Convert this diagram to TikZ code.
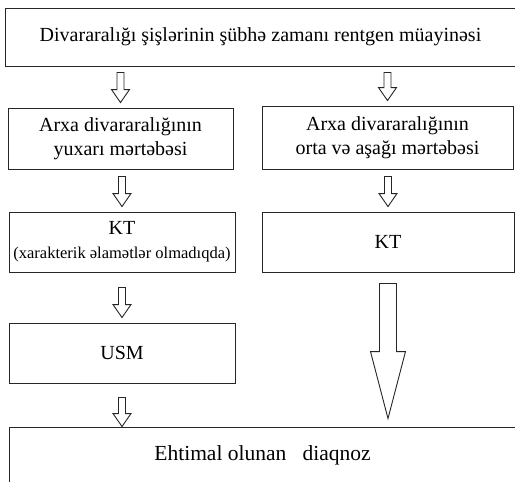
\documentclass[tikz,border=0pt]{standalone}
\usepackage{fontspec}
\setmainfont{Liberation Serif}
\usetikzlibrary{calc}

\tikzset{
  flowbox/.style={draw=black!85, line width=0.9pt, align=center, inner sep=0pt,
    font=\fontsize{20}{24}\selectfont},
  hollow/.style={draw=black!85, line width=0.9pt, fill=white, line join=miter}
}

% hollow block arrow: #1 start, #2 tip, #3 stem half width, #4 head half width, #5 head length
\newcommand{\hollowarrow}[5]{%
  \draw[hollow] let \p1=#1, \p2=#2 in
    (\x2-#3pt,\y1) -- (\x2-#3pt,\y2+#5pt) -- (\x2-#4pt,\y2+#5pt) -- (\x2,\y2)
    -- (\x2+#4pt,\y2+#5pt) -- (\x2+#3pt,\y2+#5pt) -- (\x2+#3pt,\y1) -- cycle;}

\begin{document}
\begin{tikzpicture}[x=1pt,y=-1pt]
  \useasboundingbox (0,0) rectangle (515,482);

  % ===== Boxes =====
  \node[flowbox, minimum width=511pt, minimum height=58pt] (exam) at (260.5,37)
       {Divararalığı şişlərinin şübhə zamanı rentgen müayinəsi};
  \node[flowbox, minimum width=225pt, minimum height=61pt] (upper) at (120.5,138.5)
       {Arxa divararalığının\\yuxarı mərtəbəsi};
  \node[flowbox, minimum width=251pt, minimum height=63pt] (lower) at (387.5,137.5)
       {Arxa divararalığının\\orta və aşağı mərtəbəsi};
  \node[flowbox, minimum width=226pt, minimum height=60pt] (ktup) at (122,242)
       {KT\\{\fontsize{16.5}{18}\selectfont (xarakterik əlamətlər olmadıqda)}};
  \node[flowbox, minimum width=252pt, minimum height=60pt] (ktlow) at (388,242) {KT};
  \node[flowbox, minimum width=226pt, minimum height=60pt] (usm) at (122,353) {USM};
  \node[flowbox, minimum width=507pt, minimum height=56pt, font=\fontsize{21.5}{24}\selectfont]
       (diag) at (262.5,455) {Ehtimal olunan~~~diaqnoz};

  % ===== Arrows =====
  \hollowarrow{($(exam.south)+(0,6)$)}{($(upper.north)+(0,-5)$)}{3.5}{9}{13}
  \hollowarrow{($(exam.south)+(0,6)$)}{($(lower.north)+(0,-5)$)}{3.5}{9}{13}
  \hollowarrow{($(upper.south)+(0,7)$)}{($(ktup.north)+(0,-5)$)}{3.5}{9}{13}
  \hollowarrow{($(lower.south)+(0,7)$)}{($(ktlow.north)+(0,-5)$)}{3.5}{9}{13}
  \hollowarrow{($(ktup.south)+(0,15)$)}{($(usm.north)+(0,-5)$)}{3.5}{9}{13}
  \hollowarrow{($(usm.south)+(0,14)$)}{(usm.south |- diag.north)}{3.5}{9}{13}
  % wide arrow on the right
  \hollowarrow{($(ktlow.south)+(0,11)$)}{($(ktlow.south |- diag.north)+(0,-8)$)}{8.5}{17.5}{67}
\end{tikzpicture}
\end{document}
